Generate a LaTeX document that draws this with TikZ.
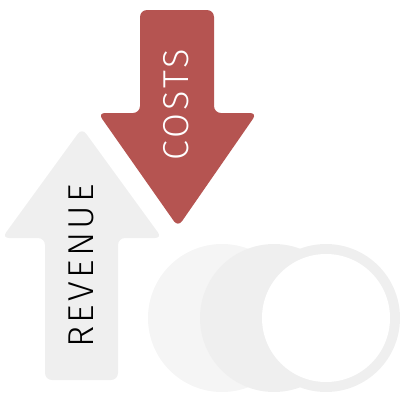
\documentclass[tikz,border=0pt]{standalone}
\usepackage{fontspec}
\setsansfont{Fira Sans Light}[LetterSpace=9]
\definecolor{costred}{HTML}{B55451}
\definecolor{revgrey}{HTML}{EFEFEF}
\definecolor{coinlight}{HTML}{F5F5F5}
\begin{document}
\begin{tikzpicture}[
            x=1pt, y=-1pt,
            font=\sffamily\fontsize{36}{36}\selectfont,
            arrowbody/.style={rounded corners=7pt},
            label/.style={rotate=90, inner sep=0pt}
        ]
            \useasboundingbox (0,0) rectangle (400,402);
% coins
            \fill[coinlight] (222,318) circle (74pt);
            \fill[revgrey]   (274,318) circle (74pt);
            \fill[revgrey]   (326,318) circle (74pt);
            \fill[white]     (326,318) circle (64pt);
% revenue arrow (up)
            \fill[revgrey, arrowbody] (45,380) -- (45,238) -- (2,238) -- (82,128)
                -- (162,238) -- (118,238) -- (118,380) -- cycle;
% costs arrow (down)
            \fill[costred, arrowbody] (140,10) -- (214,10) -- (214,113) -- (257,113)
                -- (178,227) -- (98,113) -- (140,113) -- cycle;
% labels
            \node[label, text=black] (revenue) at (81,266) {REVENUE};
            \node[label, text=white] (costs)   at (176,105) {COSTS};
        \end{tikzpicture}
\end{document}
